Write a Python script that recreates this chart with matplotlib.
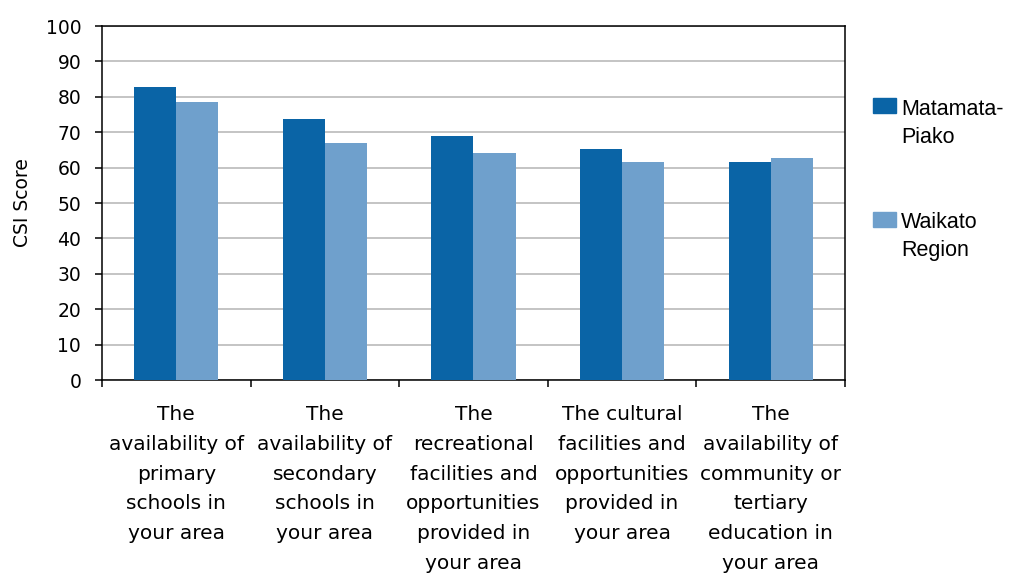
import matplotlib.pyplot as plt
import numpy as np
from matplotlib.patches import Rectangle

plt.rcParams['font.family'] = ['DejaVu Sans']

categories = [
    "The\navailability of\nprimary\nschools in\nyour area",
    "The\navailability of\nsecondary\nschools in\nyour area",
    "The\nrecreational\nfacilities and\nopportunities\nprovided in\nyour area",
    "The cultural\nfacilities and\nopportunities\nprovided in\nyour area",
    "The\navailability of\ncommunity or\ntertiary\neducation in\nyour area",
]
matamata = [82.8, 73.8, 68.9, 65.3, 61.6]
waikato = [78.5, 66.9, 64.2, 61.6, 62.6]
series_names = [["Matamata-", "Piako"], ["Waikato", "Region"]]
colors = ["#0A64A6", "#6FA0CC"]

W, H = 1010, 573
fig = plt.figure(figsize=(W / 100, H / 100), dpi=100)
ax = fig.add_axes([0.101, 0.3368, 0.7356, 0.6178])

x = np.arange(len(categories))
w = 0.283
ax.bar(x - w / 2, matamata, w, color=colors[0], zorder=3)
ax.bar(x + w / 2, waikato, w, color=colors[1], zorder=3)

ax.set_xlim(-0.5, len(categories) - 0.5)
ax.set_ylim(0, 100)
ax.set_yticks(range(0, 101, 10))
ax.yaxis.grid(True, color="#BFBFBF", lw=1.3, zorder=0)
ax.set_axisbelow(True)

# ticks sit on category boundaries, labels in the middle
ax.set_xticks(np.arange(-0.5, len(categories), 1.0))
ax.set_xticklabels([])
ax.set_xticks(x, minor=True)
ax.set_xticklabels(categories, minor=True, fontsize=14.5, linespacing=1.72,
                   va="top", ha="center")
ax.tick_params(axis="x", which="minor", length=0, pad=18)
ax.tick_params(axis="x", which="major", length=5, width=1.1, direction="out")
ax.tick_params(axis="y", length=5, width=1.1, direction="out", pad=10,
               labelsize=13.5)

for s in ax.spines.values():
    s.set_linewidth(1.1)
    s.set_color("black")

ax.set_ylabel("CSI Score", fontsize=13.5, labelpad=10)

# legend: colour square next to the first line of each two-line name
for i, lines in enumerate(series_names):
    top = 98 + i * 114
    fig.patches.append(Rectangle((873 / W, 1 - (top + 15) / H), 23 / W, 15 / H,
                                 transform=fig.transFigure, color=colors[i]))
    for j, line in enumerate(lines):
        base = 115 + i * 113 + j * 28
        fig.text(901 / W, 1 - base / H, line, fontsize=15.5, va="baseline",
                 ha="left", family="Liberation Sans")

fig.savefig("out.png", dpi=100)
